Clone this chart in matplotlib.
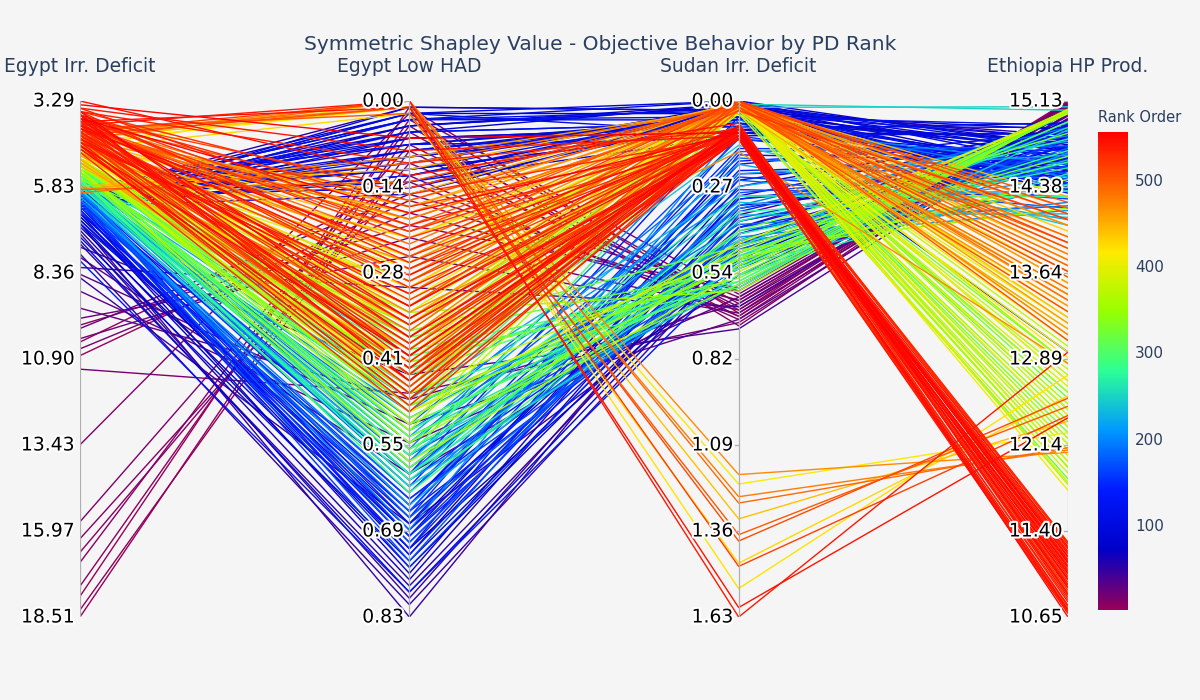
import matplotlib

matplotlib.use("Agg")

import matplotlib.patheffects as pe
import matplotlib.pyplot as plt
import numpy as np
from matplotlib.cm import ScalarMappable
from matplotlib.collections import LineCollection
from matplotlib.colors import LinearSegmentedColormap, Normalize


TITLE = "Symmetric Shapley Value - Objective Behavior by PD Rank"
AXIS_NAMES = [
    "Egypt Irr. Deficit",
    "Egypt Low HAD",
    "Sudan Irr. Deficit",
    "Ethiopia HP Prod."
]

# value at the top / bottom of each vertical axis
AXIS_TOP = [3.29, 0.00, 0.00, 15.13]
AXIS_BOTTOM = [18.51, 0.83, 1.63, 10.65]

TICK_LABELS = [
    ["3.29", "5.83", "8.36", "10.90", "13.43", "15.97", "18.51"],
    ["0.00", "0.14", "0.28", "0.41", "0.55", "0.69", "0.83"],
    ["0.00", "0.27", "0.54", "0.82", "1.09", "1.36", "1.63"],
    ["15.13", "14.38", "13.64", "12.89", "12.14", "11.40", "10.65"],
]

RANK_MIN = 1
RANK_MAX = 556
COLORBAR_TICKS = [100, 200, 300, 400, 500]

# one entry per solution, grouped roughly by rank band
rank = [
    # purple
    2, 4, 6, 8, 10, 12, 14, 16, 18, 20, 22, 24, 26, 28, 30, 33, 36, 39,
    # indigo / blue
    42, 46, 50, 54, 58, 62, 66, 70, 74, 78, 82, 86, 90, 94, 98, 102, 106,
    110, 114, 118, 122, 126, 129,
    # blue / cyan
    132, 136, 140, 144, 148, 152, 156, 160, 165, 170, 175, 180, 185, 190,
    195, 200, 205, 210, 215, 220, 225, 230, 235, 240, 245, 250,
    # green
    255, 260, 265, 270, 275, 280, 285, 290, 295, 300, 305, 310, 315, 320,
    325, 330, 335, 340, 345, 348,
    # yellow
    352, 356, 360, 364, 368, 372, 376, 380, 384, 388, 392, 396, 400, 404,
    408, 416, 424,
    # large sudan deficit
    412, 420, 428, 440, 470, 480, 490, 500, 510, 515, 540, 545,
    # orange
    432, 436, 444, 448, 452, 456, 460, 464, 468, 474, 478, 484, 486, 488,
    494, 496, 498, 504, 508, 512, 518,
    # red
    522, 524, 526, 528, 530, 532, 534, 536, 538, 542, 544, 546, 548, 550,
    552, 554, 556,
    # more solutions
    1, 3, 5, 7, 9,
    44, 48, 52, 56, 60, 64, 68, 72, 76, 80, 84, 88, 92, 96, 100, 104, 108,
    112, 116,
    134, 138, 142, 146, 150, 154, 158, 162, 168, 172, 178, 182, 188, 192,
    198, 208, 218, 228, 238, 248,
    258, 262, 268, 272, 278, 282, 288, 292, 298, 302, 308, 312, 318, 322,
    328, 332, 338, 342,
    350, 354, 358, 362, 366, 370, 374, 378, 382, 386, 390, 394, 398, 402,
    406, 410, 414, 418, 422, 426,
    430, 434, 438, 442, 446, 450, 454, 458, 462, 466, 472, 476, 482, 492,
    502, 506, 514, 516, 520, 445, 457, 471,
    521, 523, 525, 527, 529, 531, 533, 535, 537, 539, 541, 543, 547, 549,
    551, 553, 555,
    # low HAD, low sudan deficit (blue)
    81, 83, 85, 87, 89, 91, 93, 95, 97, 99, 101, 103, 105, 107, 109, 111,
    113, 115, 117, 119,
    # red band
    517, 519, 521, 523, 525, 527, 529, 531, 533, 535, 537, 539,
]

egypt_irr_deficit = [
    18.51, 18.3, 17.6, 16.6, 16.2, 15.7, 13.43, 11.2, 10.6, 10.3, 10.0, 9.7,
    9.4, 8.9, 8.4, 7.9, 7.6, 8.2,
    7.2, 6.9, 7.5, 6.1, 6.3, 6.6, 6.2, 7.0, 6.0, 6.4, 6.8, 6.5, 7.3, 6.2, 6.7,
    6.1, 6.9, 6.3, 6.6, 6.0, 6.4, 6.2, 8.0,
    6.4, 6.1, 5.9, 6.5, 6.0, 6.2, 5.8, 6.3, 5.9, 6.1, 5.7, 6.0, 5.8, 6.2,
    5.6, 5.9, 6.0, 5.7, 5.8, 6.1, 5.6, 5.9, 5.7, 5.5, 5.8, 5.6,
    5.9, 5.6, 5.4, 5.8, 5.5, 5.3, 5.7, 5.2, 5.6, 5.4, 5.1, 5.5, 5.3, 5.0,
    5.4, 5.2, 5.6, 5.1, 5.3, 5.0,
    5.4, 5.0, 5.2, 4.9, 5.3, 5.1, 4.8, 5.0, 5.2, 4.7, 5.0, 4.8, 4.6, 4.9,
    4.7, 4.8, 4.5,
    4.5, 4.6, 4.7, 4.4, 4.3, 4.2, 4.4, 4.1, 4.3, 4.2, 4.0, 3.9,
    5.0, 4.7, 5.2, 4.5, 4.9, 4.3, 5.1, 4.6, 4.4, 4.8, 4.2, 4.5, 6.0, 4.0,
    4.7, 5.9, 4.1, 4.4, 3.9, 4.6, 4.0,
    4.0, 3.7, 4.3, 3.6, 4.1, 3.8, 4.5, 3.5, 4.2, 3.9, 3.29, 4.4, 3.7, 4.0,
    3.6, 4.6, 3.8,
    # more solutions
    17.9, 10.8, 10.4, 9.9, 16.9,
    8.5, 7.8, 6.0, 6.2, 7.1, 6.1, 6.5, 6.3, 6.9, 6.0, 6.7, 6.2, 7.4, 6.4,
    6.6, 6.1, 6.8, 6.3, 6.5,
    6.2, 6.0, 6.3, 5.8, 6.1, 5.9, 6.4, 5.7, 6.0, 5.8, 6.2, 5.6, 5.9, 5.7,
    6.0, 5.8, 5.6, 5.7, 5.5, 5.6,
    5.7, 5.5, 5.8, 5.4, 5.6, 5.3, 5.5, 5.2, 5.6, 5.3, 5.1, 5.4, 5.2, 5.5,
    5.0, 5.3, 5.1, 5.4,
    5.1, 4.9, 5.2, 4.8, 5.0, 4.7, 5.1, 4.9, 4.6, 5.0, 4.8, 4.6, 4.9, 4.7,
    4.5, 4.8, 4.6, 4.4, 4.7, 4.5,
    4.9, 4.6, 5.1, 4.4, 4.8, 4.2, 5.0, 4.5, 4.3, 4.7, 4.1, 4.6, 3.9, 4.5,
    4.0, 4.3, 3.8, 4.4, 3.9, 5.8, 5.9, 4.2,
    4.1, 3.8, 4.4, 3.7, 4.2, 3.9, 4.6, 3.6, 4.3, 4.0, 3.5, 4.5, 3.8, 4.1,
    3.7, 4.7, 3.4,
    6.0, 6.2, 5.9, 6.3, 6.1, 6.4, 5.8, 6.2, 6.0, 6.5, 6.1, 5.9, 6.3, 6.2,
    6.0, 6.4, 6.1, 5.8, 6.3, 6.0,
    4.3, 3.9, 4.5, 4.0, 3.7, 4.2, 4.8, 3.6, 4.4, 4.1, 3.8, 4.6,
]

egypt_low_had = [
    0.05, 0.08, 0.03, 0.10, 0.12, 0.07, 0.02, 0.47, 0.18, 0.22, 0.15, 0.25,
    0.48, 0.55, 0.52, 0.60, 0.44, 0.30,
    0.80, 0.83, 0.78, 0.04, 0.08, 0.76, 0.10, 0.72, 0.03, 0.12, 0.70, 0.06,
    0.74, 0.02, 0.68, 0.14, 0.66, 0.09, 0.64, 0.05, 0.71, 0.60, 0.79,
    0.70, 0.68, 0.73, 0.66, 0.62, 0.75, 0.60, 0.64, 0.58, 0.71, 0.55, 0.67,
    0.52, 0.63, 0.57, 0.69, 0.50, 0.61, 0.54, 0.65, 0.48, 0.59, 0.53, 0.46,
    0.56, 0.40,
    0.62, 0.58, 0.52, 0.60, 0.47, 0.55, 0.43, 0.50, 0.63, 0.40, 0.48, 0.56,
    0.38, 0.45, 0.59, 0.42, 0.36, 0.51, 0.34, 0.44,
    0.55, 0.40, 0.48, 0.33, 0.58, 0.45, 0.30, 0.52, 0.36, 0.42, 0.27, 0.50,
    0.38, 0.25, 0.46, 0.32, 0.41,
    0.01, 0.00, 0.02, 0.01, 0.00, 0.01, 0.00, 0.02, 0.01, 0.00, 0.00, 0.01,
    0.30, 0.22, 0.40, 0.15, 0.35, 0.17, 0.45, 0.26, 0.18, 0.38, 0.19, 0.28,
    0.10, 0.23, 0.43, 0.13, 0.20, 0.33, 0.16, 0.48, 0.24,
    0.38, 0.25, 0.44, 0.15, 0.40, 0.30, 0.47, 0.20, 0.35, 0.42, 0.12, 0.33,
    0.45, 0.28, 0.38, 0.41, 0.18,
    # more solutions
    0.01, 0.16, 0.13, 0.20, 0.04,
    0.68, 0.81, 0.01, 0.07, 0.77, 0.11, 0.73, 0.04, 0.75, 0.13, 0.69, 0.06,
    0.79, 0.15, 0.65, 0.08, 0.67, 0.03, 0.72,
    0.69, 0.65, 0.72, 0.61, 0.67, 0.70, 0.63, 0.57, 0.74, 0.59, 0.66, 0.53,
    0.62, 0.56, 0.60, 0.51, 0.58, 0.49, 0.55, 0.44,
    0.60, 0.54, 0.57, 0.49, 0.61, 0.46, 0.53, 0.41, 0.57, 0.44, 0.39, 0.52,
    0.47, 0.37, 0.43, 0.54, 0.35, 0.49,
    0.50, 0.37, 0.44, 0.29, 0.53, 0.35, 0.47, 0.31, 0.43, 0.26, 0.49, 0.34,
    0.22, 0.39, 0.28, 0.44, 0.19, 0.36, 0.47, 0.30,
    0.33, 0.18, 0.42, 0.21, 0.36, 0.17, 0.46, 0.24, 0.16, 0.40, 0.25, 0.31,
    0.19, 0.37, 0.21, 0.29, 0.14, 0.44, 0.27, 0.11, 0.09, 0.34,
    0.32, 0.22, 0.46, 0.17, 0.39, 0.27, 0.49, 0.10, 0.36, 0.43, 0.08, 0.31,
    0.41, 0.24, 0.35, 0.45, 0.06,
    0.02, 0.05, 0.09, 0.01, 0.11, 0.04, 0.07, 0.13, 0.03, 0.08, 0.10, 0.06,
    0.12, 0.02, 0.09, 0.05, 0.14, 0.07, 0.03, 0.11,
    0.41, 0.29, 0.47, 0.36, 0.21, 0.44, 0.50, 0.26, 0.39, 0.33, 0.43, 0.48,
]

sudan_irr_deficit = [
    0.66, 0.68, 0.64, 0.62, 0.69, 0.65, 0.61, 0.70, 0.63, 0.66, 0.60, 0.67,
    0.64, 0.62, 0.69, 0.58, 0.72, 0.65,
    0.40, 0.36, 0.45, 0.02, 0.04, 0.30, 0.01, 0.50, 0.06, 0.03, 0.25, 0.08,
    0.42, 0.00, 0.33, 0.05, 0.20, 0.02, 0.46, 0.07, 0.38, 0.05, 0.52,
    0.45, 0.22, 0.35, 0.50, 0.15, 0.40, 0.28, 0.52, 0.12, 0.38, 0.25, 0.47,
    0.18, 0.33, 0.43, 0.08, 0.30, 0.55, 0.20, 0.41, 0.27, 0.36, 0.49, 0.14,
    0.58, 0.01,
    0.52, 0.46, 0.55, 0.38, 0.58, 0.30, 0.50, 0.02, 0.44, 0.57, 0.01, 0.49,
    0.53, 0.00, 0.41, 0.56, 0.03, 0.47, 0.60, 0.02,
    0.50, 0.01, 0.02, 0.00, 0.54, 0.03, 0.01, 0.02, 0.00, 0.04, 0.02, 0.45,
    0.01, 0.03, 0.00, 0.02, 0.01,
    1.21, 1.54, 1.46, 1.32, 1.18, 1.25, 1.27, 1.37, 1.39, 1.47, 1.63, 1.60,
    0.01, 0.00, 0.02, 0.00, 0.01, 0.03, 0.00, 0.02, 0.01, 0.00, 0.02, 0.01,
    0.02, 0.00, 0.03, 0.01, 0.01, 0.00, 0.02, 0.01, 0.00,
    0.09, 0.10, 0.08, 0.11, 0.09, 0.12, 0.08, 0.10, 0.11, 0.09, 0.07, 0.10,
    0.12, 0.08, 0.11, 0.09, 0.10,
    # more solutions
    0.67, 0.63, 0.68, 0.59, 0.71,
    0.55, 0.48, 0.03, 0.06, 0.34, 0.09, 0.27, 0.01, 0.44, 0.04, 0.31, 0.10,
    0.47, 0.02, 0.23, 0.05, 0.40, 0.03, 0.17,
    0.42, 0.19, 0.31, 0.48, 0.11, 0.37, 0.24, 0.53, 0.29, 0.45, 0.16, 0.39,
    0.51, 0.06, 0.34, 0.44, 0.23, 0.52, 0.32, 0.02,
    0.49, 0.53, 0.42, 0.57, 0.35, 0.01, 0.48, 0.59, 0.02, 0.51, 0.00, 0.55,
    0.03, 0.46, 0.01, 0.58, 0.02, 0.50,
    0.52, 0.02, 0.00, 0.01, 0.03, 0.02, 0.48, 0.00, 0.03, 0.01, 0.02, 0.00,
    0.04, 0.01, 0.02, 0.00, 0.03, 0.01, 0.02, 0.00,
    0.02, 0.01, 0.00, 0.02, 0.01, 0.00, 0.03, 0.01, 0.00, 0.02, 0.01, 0.00,
    0.02, 0.01, 0.00, 0.02, 0.01, 0.00, 0.03, 0.01, 0.02, 0.16,
    0.10, 0.11, 0.09, 0.12, 0.08, 0.10, 0.11, 0.09, 0.10, 0.12, 0.11, 0.08,
    0.10, 0.09, 0.12, 0.08, 0.10,
    0.04, 0.01, 0.07, 0.03, 0.09, 0.02, 0.05, 0.11, 0.00, 0.06, 0.03, 0.08,
    0.02, 0.10, 0.04, 0.07, 0.01, 0.12, 0.05, 0.03,
    0.11, 0.09, 0.10, 0.12, 0.08, 0.11, 0.09, 0.10, 0.12, 0.08, 0.11, 0.09,
]

ethiopia_hp_prod = [
    15.12, 15.10, 15.13, 15.08, 15.11, 15.05, 15.09, 15.02, 15.07, 15.04,
    15.10, 14.98, 15.00, 15.06, 14.96, 15.03, 14.97, 15.01,
    14.90, 14.85, 14.95, 14.80, 14.70, 14.88, 14.75, 14.92, 14.60, 14.65,
    14.82, 14.55, 14.78, 14.72, 14.50, 14.45, 14.86, 14.40, 14.68, 14.35,
    14.62, 12.95, 14.93,
    14.75, 14.60, 14.85, 14.40, 14.70, 14.55, 14.30, 14.80, 14.50, 14.65,
    14.20, 14.72, 14.45, 14.90, 14.25, 14.58, 14.35, 14.68, 14.10, 14.48,
    14.78, 14.15, 14.62, 14.05, 14.88, 15.05,
    14.95, 15.04, 14.50, 14.80, 15.05, 14.30, 15.03, 12.30, 14.60, 15.05,
    12.60, 14.40, 15.02, 12.00, 14.85, 15.04, 12.85, 14.20, 15.05, 11.95,
    15.04, 12.20, 12.50, 11.80, 15.06, 12.75, 12.05, 13.00, 12.40, 11.90,
    12.65, 15.02, 12.15, 13.20, 11.75, 12.90, 13.10,
    12.25, 12.75, 12.57, 12.35, 12.08, 12.10, 12.12, 12.48, 12.55, 12.40,
    12.95, 12.38,
    13.30, 13.55, 13.80, 14.05, 13.45, 13.95, 13.20, 14.20, 13.65, 13.10,
    14.10, 13.75, 13.50, 13.40, 13.90, 13.70, 14.25, 13.05, 13.60, 13.85,
    14.15,
    11.10, 10.95, 11.25, 10.80, 11.05, 10.70, 11.30, 10.90, 11.15, 10.85,
    11.00, 10.75, 11.20, 10.65, 11.08, 10.98, 11.12,
    # more solutions
    15.13, 15.09, 15.11, 15.06, 15.12,
    14.97, 14.91, 14.83, 14.77, 14.66, 14.58, 14.89, 14.52, 14.74, 14.42,
    14.63, 14.84, 14.70, 14.38, 14.56, 14.47, 14.81, 14.33, 14.60,
    14.64, 14.77, 14.52, 14.86, 14.42, 14.69, 14.28, 14.81, 14.56, 14.37,
    14.74, 14.22, 14.60, 14.47, 14.83, 14.18, 14.66, 14.41, 14.12, 15.08,
    14.90, 15.03, 14.55, 15.04, 14.35, 12.45, 14.70, 15.05, 12.15, 14.95,
    12.70, 15.03, 11.85, 14.65, 12.55, 15.05, 12.25, 14.45,
    15.04, 12.35, 12.85, 11.95, 13.15, 12.60, 15.05, 12.10, 12.80, 11.82,
    13.25, 12.45, 12.95, 12.00, 13.05, 12.70, 13.35, 12.30, 13.45, 13.60,
    13.50, 14.00, 13.25, 13.70, 14.30, 13.85, 13.15, 14.15, 13.55, 13.35,
    14.05, 13.80, 13.45, 13.95, 14.20, 13.30, 13.65, 13.90, 14.10, 13.75,
    13.40, 12.85,
    11.02, 10.88, 11.18, 10.72, 11.28, 10.93, 11.22, 10.78, 11.06, 10.68,
    11.14, 10.82, 11.26, 10.71, 11.03, 10.91, 11.17,
    14.88, 14.62, 14.79, 14.53, 14.94, 14.69, 14.41, 14.85, 14.57, 14.73,
    14.36, 14.90, 14.48, 14.66, 14.81, 14.44, 14.71, 14.59, 14.92, 14.50,
    11.04, 10.86, 11.21, 10.74, 11.13, 10.97, 11.29, 10.69, 11.09, 10.84,
    11.24, 10.93,
]

# plotly "Rainbow" colour scale
RAINBOW = LinearSegmentedColormap.from_list(
    "plotly_rainbow",
    [
        (0.0, (150 / 255, 0, 90 / 255)),
        (0.125, (0, 0, 200 / 255)),
        (0.25, (0, 25 / 255, 1)),
        (0.375, (0, 152 / 255, 1)),
        (0.5, (44 / 255, 1, 150 / 255)),
        (0.625, (151 / 255, 1, 0)),
        (0.75, (1, 234 / 255, 0)),
        (0.875, (1, 111 / 255, 0)),
        (1.0, (1, 0, 0)),
    ]
)

TEXT_COLOR = "#2a3f5f"
BG_COLOR = "#f5f5f5"
W, H = 1200, 700


def to_unit(values, top, bottom):
    # position along an axis: 1 = top, 0 = bottom
    return (np.asarray(values, dtype=float) - bottom) / (top - bottom)


def main():
    columns = [egypt_irr_deficit, egypt_low_had, sudan_irr_deficit, ethiopia_hp_prod]
    n_axes = len(columns)

    fig = plt.figure(figsize=(W / 100, H / 100), dpi=100)
    fig.patch.set_facecolor(BG_COLOR)

    # plot area in pixel terms: x 80..1068, y 101..617
    ax = fig.add_axes([80 / W, (H - 617) / H, 988 / W, 516 / H])
    ax.set_xlim(0, n_axes - 1)
    ax.set_ylim(0, 1)
    ax.axis("off")

    ys = np.column_stack([
        to_unit(col, AXIS_TOP[i], AXIS_BOTTOM[i])
        for i, col in enumerate(columns)
    ])
    xs = np.arange(n_axes)

    # low ranks first, high ranks on top
    ranks = np.asarray(rank)
    order = np.argsort(ranks, kind="stable")
    segments = [np.column_stack([xs, ys[j]]) for j in order]

    norm = Normalize(RANK_MIN, RANK_MAX)
    colors = RAINBOW(norm(ranks[order]))

    lines = LineCollection(segments, colors=colors, linewidths=1.0, zorder=2)
    ax.add_collection(lines)

    # axes, ticks and tick labels
    halo = [pe.withStroke(linewidth=3, foreground="white")]
    for i in range(n_axes):
        ax.plot([i, i], [0, 1], color="#b0b0b0", linewidth=0.9, zorder=3)
        labels = TICK_LABELS[i]
        for k, label in enumerate(labels):
            y = 1 - k / (len(labels) - 1)
            ax.plot([i - 0.012, i], [y, y], color="#b0b0b0", linewidth=0.9, zorder=3)
            ax.text(
                i - 0.017, y, label,
                ha="right", va="center",
                fontsize=13.5, color="black",
                path_effects=halo, zorder=4,
                clip_on=False
            )

        x_px = 80 + i * 988 / (n_axes - 1)
        fig.text(
            x_px / W, (H - 66) / H, AXIS_NAMES[i],
            ha="center", va="center",
            fontsize=13.5, color=TEXT_COLOR
        )

    fig.text(
        0.5, (H - 44) / H, TITLE,
        ha="center", va="center",
        fontsize=14.5, color=TEXT_COLOR
    )

    # colour bar
    cax = fig.add_axes([1098 / W, (H - 610) / H, 30 / W, 478 / H])
    mappable = ScalarMappable(norm=norm, cmap=RAINBOW)
    cbar = fig.colorbar(mappable, cax=cax)
    cbar.outline.set_visible(False)
    cbar.set_ticks(COLORBAR_TICKS)
    cax.tick_params(length=0, labelsize=11, labelcolor=TEXT_COLOR, pad=5)

    fig.text(
        1098 / W, (H - 118) / H, "Rank Order",
        ha="left", va="center",
        fontsize=10.5, color=TEXT_COLOR
    )

    fig.savefig("out.png", dpi=100, facecolor=fig.get_facecolor())
    plt.close(fig)


if __name__ == "__main__":
    main()
